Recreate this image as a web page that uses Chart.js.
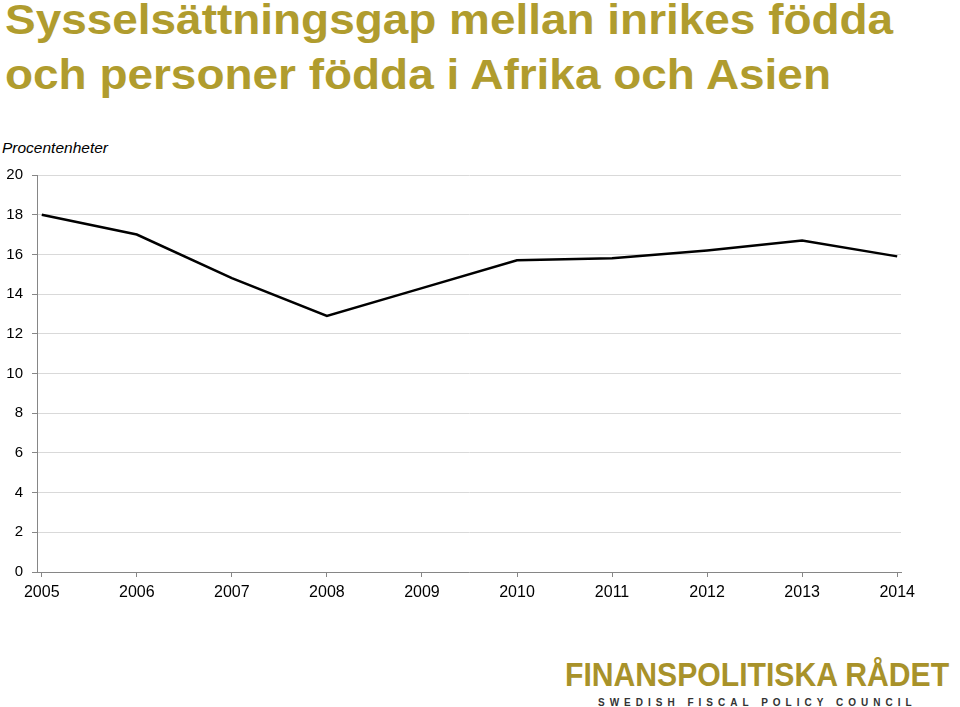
<!DOCTYPE html>
<html>
<head>
<meta charset="utf-8">
<script src="https://cdn.jsdelivr.net/npm/chart.js@4"></script>
<style>
  html, body { margin: 0; padding: 0; background: #fff; }
  body { width: 960px; height: 707px; position: relative; overflow: hidden; font-family: "Liberation Sans", Arial, sans-serif; }
  #title { position: absolute; left: 5px; top: -8px; margin: 0; font-size: 43px; line-height: 55px; font-weight: bold; color: #b09c2e; white-space: nowrap; transform: scaleX(1.068); transform-origin: left top; }
  #unit { position: absolute; left: 2px; top: 139px; font-size: 15.5px; font-style: italic; color: #000; }
  #logo { position: absolute; left: 565px; top: 657px; font-size: 33.5px; font-weight: bold; color: #a8922a; white-space: nowrap; line-height: 36px; transform: scaleX(0.9); transform-origin: left top; }
  #sub { position: absolute; left: 598px; top: 697px; font-size: 10px; line-height: 12px; font-weight: bold; letter-spacing: 5px; color: #333; white-space: nowrap; }
  canvas { position: absolute; left: 0; top: 0; }
</style>
</head>
<body>
<h1 id="title">Sysselsättningsgap mellan inrikes födda<br>och personer födda i Afrika och Asien</h1>
<div id="unit">Procentenheter</div>
<div id="logo">FINANSPOLITISKA RÅDET</div>
<div id="sub">SWEDISH FISCAL POLICY COUNCIL</div>
<canvas id="chart" width="960" height="707"></canvas>
<script>
// Data
const years = [2005, 2006, 2007, 2008, 2009, 2010, 2011, 2012, 2013, 2014]
const gap = [18.0, 17.0, 14.8, 12.9, 14.3, 15.7, 15.8, 16.2, 16.7, 15.9]
const yTicks = [0, 2, 4, 6, 8, 10, 12, 14, 16, 18, 20]

const axisGray = "#868686"

const chart = new Chart(document.getElementById("chart"), {
    type: "line",
    data: {
        datasets: [
            {
                label: "Sysselsättningsgap",
                data: years.map((y, i) => ({ x: y, y: gap[i] })),
                borderColor: "#000",
                borderWidth: 2.5,
                pointRadius: 0,
                tension: 0,
                fill: false
            }
        ]
    },
    options: {
        responsive: false,
        animation: false,
        layout: { padding: { top: 175, right: 59, left: 0, bottom: 0 } },
        plugins: {
            legend: { display: false },
            tooltip: { enabled: false }
        },
        scales: {
            x: {
                type: "linear",
                min: 2004.95,
                max: 2014.04,
                afterBuildTicks: axis => { axis.ticks = years.map(v => ({ value: v })) },
                afterFit: s => { s.height = 135 },
                grid: { drawOnChartArea: false, drawTicks: true, tickLength: 5, tickColor: axisGray },
                border: { color: axisGray, width: 1 },
                ticks: {
                    callback: v => String(v),
                    color: "#000",
                    padding: 6,
                    maxRotation: 0,
                    font: { family: "'Liberation Sans', Arial", size: 16 }
                }
            },
            y: {
                min: 0,
                max: 20,
                afterBuildTicks: axis => { axis.ticks = yTicks.map(v => ({ value: v })) },
                afterFit: s => { s.width = 37 },
                grid: { color: "#d9d9d9", tickColor: axisGray, tickLength: 5, lineWidth: 1 },
                border: { color: axisGray, width: 1 },
                ticks: {
                    color: "#000",
                    padding: 9,
                    font: { family: "'Liberation Sans', Arial", size: 15 }
                }
            }
        }
    }
})
</script>
</body>
</html>
